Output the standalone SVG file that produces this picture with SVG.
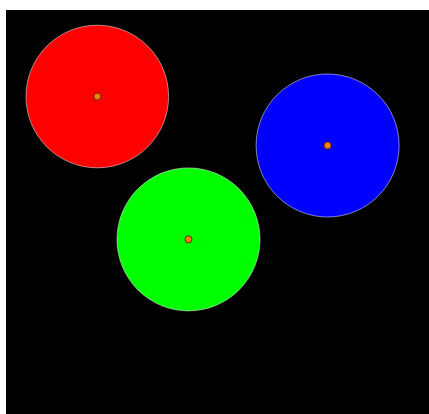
<svg xmlns="http://www.w3.org/2000/svg" width="429" height="414" viewBox="0 0 429 414">
<style>
.c{stroke:#ffffff;stroke-opacity:0.5;stroke-width:1}
.d{fill:#ff7f0e;stroke:#5a2a00;stroke-width:1}
</style>
<rect x="0" y="0" width="429" height="414" fill="#ffffff"/>
<rect x="6" y="10" width="423" height="404" fill="#000000"/>
<g id="red">
<circle class="c" cx="97.3" cy="96.5" r="71.3" fill="#ff0000"/>
<circle class="d" cx="97.3" cy="96.5" r="3.5"/>
</g>
<g id="blue">
<circle class="c" cx="327.6" cy="145.5" r="71.5" fill="#0000ff"/>
<circle class="d" cx="327.6" cy="145.5" r="3.5"/>
</g>
<g id="green">
<circle class="c" cx="188.5" cy="239.4" r="71.5" fill="#00ff00"/>
<circle class="d" cx="188.5" cy="239.4" r="3.5"/>
</g>
<g id="connectors"/>
</svg>
